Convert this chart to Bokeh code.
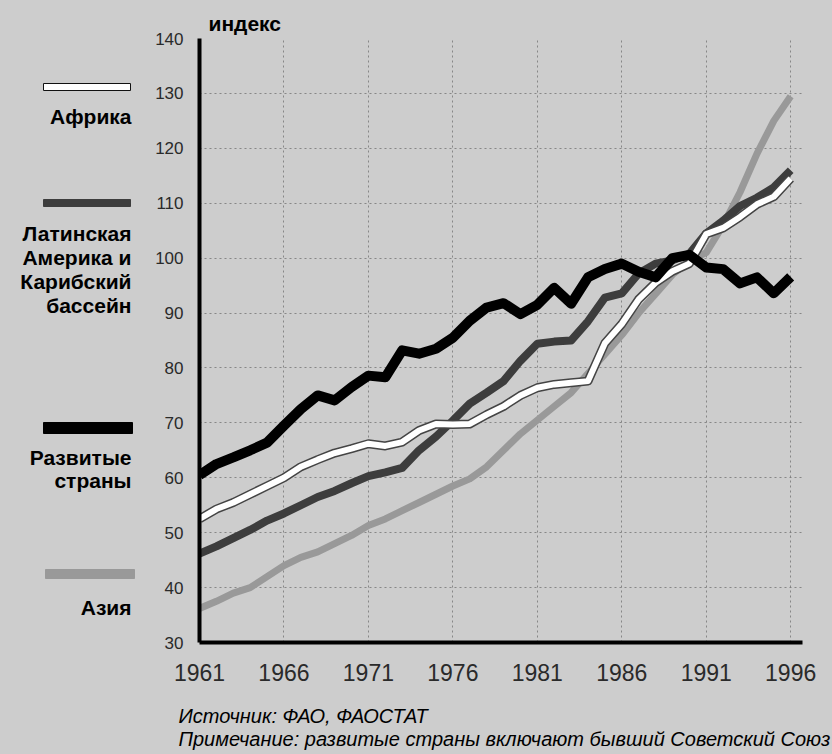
from bokeh.plotting import figure
from bokeh.layouts import row, column
from bokeh.models import Range1d, FixedTicker
from bokeh.core.properties import value
from bokeh.embed import file_html
from bokeh.resources import INLINE

# ---------------- data ----------------
years = list(range(1961, 1997))
africa = [52.5, 54.3, 55.5, 57.0, 58.5, 60.0, 62.0, 63.3, 64.5, 65.3, 66.2, 65.8,
          66.5, 68.6, 69.8, 69.7, 69.8, 71.5, 73.0, 75.0, 76.4, 77.0, 77.3, 77.6,
          84.5, 88.0, 92.5, 95.5, 97.6, 99.0, 104.4, 105.5, 107.5, 109.8, 111.2, 114.5]
latam = [46.2, 47.5, 49.0, 50.5, 52.2, 53.5, 55.0, 56.5, 57.6, 59.0, 60.3, 61.0,
         61.8, 65.0, 67.5, 70.4, 73.5, 75.5, 77.6, 81.3, 84.4, 84.8, 85.0, 88.5,
         92.8, 93.6, 97.2, 99.0, 99.6, 100.8, 104.5, 106.8, 109.5, 111.0, 112.9, 116.0]
developed = [60.5, 62.5, 63.7, 65.0, 66.4, 69.5, 72.5, 75.0, 74.1, 76.5, 78.6, 78.3,
             83.2, 82.6, 83.5, 85.5, 88.6, 91.0, 91.8, 89.8, 91.5, 94.6, 91.7, 96.5,
             98.0, 99.0, 97.5, 96.5, 100.0, 100.6, 98.3, 98.0, 95.4, 96.5, 93.6, 96.6]
asia = [36.2, 37.5, 39.0, 40.0, 42.0, 44.0, 45.5, 46.5, 48.0, 49.5, 51.3, 52.5,
        54.0, 55.5, 57.0, 58.5, 59.8, 62.0, 65.0, 68.0, 70.5, 73.0, 75.5, 79.0,
        82.5, 86.0, 90.0, 93.5, 97.0, 99.5, 101.0, 106.0, 112.0, 119.0, 125.0, 129.5]

x_ticks = [1961, 1966, 1971, 1976, 1981, 1986, 1991, 1996]
y_ticks = [30, 40, 50, 60, 70, 80, 90, 100, 110, 120, 130, 140]

y_title = "индекс"
source_note = "Источник: ФАО,  ФАОСТАТ"
remark_note = "Примечание: развитые страны включают бывший Советский Союз"

# legend: label lines per series (Африка, Латинская Америка..., Развитые страны, Азия)
legend_lines = [
    ["Африка"],
    ["Латинская", "Америка и", "Карибский", "бассейн"],
    ["Развитые", "страны"],
    ["Азия"],
]

# ---------------- styling / layout ----------------
BG = "#cdcdcd"
FONT = "Liberation Sans"
C_ASIA = "#999999"
C_LATAM = "#3d3d3d"
C_DEV = "#000000"
C_AFR = "#ffffff"

W, H = 832, 754
FOOT_H = 54
MAIN_H = H - FOOT_H
LEFT_W = 148
TOP, BOTTOM = 38, MAIN_H - 642     # borders above / below the plotting frame
FRAME_TOP, FRAME_BOTTOM = TOP, MAIN_H - BOTTOM

# ---------------- legend panel (left) ----------------
lf = figure(width=LEFT_W, height=MAIN_H,
            x_range=Range1d(0, LEFT_W), y_range=Range1d(FRAME_BOTTOM, FRAME_TOP),
            output_backend="svg", toolbar_location=None,
            x_axis_location=None, y_axis_location=None,
            min_border_left=0, min_border_right=0,
            min_border_top=TOP, min_border_bottom=BOTTOM)
lf.grid.visible = False
lf.outline_line_color = None
lf.background_fill_color = BG
lf.border_fill_color = BG

# swatch boxes (panel pixel layout)
sw_left = [43, 43, 43, 45]
sw_right = [130, 130, 132, 134]
sw_top = [83, 199, 422, 569]
sw_bottom = [90, 206, 433, 578]
sw_fill = [C_AFR, C_LATAM, C_DEV, C_ASIA]
sw_line = ["#111111", C_LATAM, C_DEV, C_ASIA]
lf.quad(left=sw_left, right=sw_right, top=sw_top, bottom=sw_bottom,
        fill_color=sw_fill, line_color=sw_line, line_width=1)

label_y = [[116], [233, 257, 281, 305], [457, 480], [607]]
tx, ty, tt = [], [], []
for lines, ys in zip(legend_lines, label_y):
    for t, yy in zip(lines, ys):
        tx.append(131)
        ty.append(yy)
        tt.append(t)
lf.text(x=tx, y=ty, text=tt, text_align="right", text_baseline="middle",
        text_font=value(FONT), text_font_style="bold", text_font_size="21px",
        text_color="#000000")

# ---------------- main chart ----------------
p = figure(width=W - LEFT_W, height=MAIN_H,
           x_range=Range1d(1961, 1996.7), y_range=Range1d(30, 140),
           output_backend="svg", toolbar_location=None,
           min_border_left=51, min_border_right=30,
           min_border_top=TOP, min_border_bottom=BOTTOM,
           title=y_title)
p.background_fill_color = BG
p.border_fill_color = BG
p.outline_line_color = None

p.title.align = "left"
p.title.offset = 9
p.title.standoff = 7
p.title.text_font = FONT
p.title.text_font_size = "21px"
p.title.text_font_style = "bold"
p.title.text_color = "#000000"

p.xaxis.ticker = FixedTicker(ticks=x_ticks)
p.yaxis.ticker = FixedTicker(ticks=y_ticks)
for ax in (p.xaxis, p.yaxis):
    ax.axis_line_width = 4
    ax.axis_line_color = "#000000"
    ax.major_tick_line_color = None
    ax.minor_tick_line_color = None
    ax.major_tick_out = 0
    ax.major_tick_in = 0
    ax.major_label_text_font = FONT
    ax.major_label_text_color = "#2a2a2a"
p.xaxis.major_label_text_font_size = "23px"
p.xaxis.major_label_standoff = 21
p.yaxis.major_label_text_font_size = "17px"
p.yaxis.major_label_standoff = 16

p.grid.grid_line_color = "#6f6f6f"
p.grid.grid_line_dash = "2 3"
p.grid.grid_line_alpha = 0.75
p.grid.grid_line_width = 1

# series (bottom to top)
p.line(years, asia, line_color=C_ASIA, line_width=7, line_join="round")
p.line(years, latam, line_color=C_LATAM, line_width=8, line_join="round")
p.line(years, africa, line_color="#444444", line_width=9, line_join="round")
p.line(years, africa, line_color=C_AFR, line_width=6, line_join="round")
p.line(years, developed, line_color=C_DEV, line_width=10, line_join="round")

# ---------------- footnote strip ----------------
foot = figure(width=W, height=FOOT_H,
              x_range=Range1d(0, W), y_range=Range1d(H, MAIN_H),
              output_backend="svg", toolbar_location=None,
              x_axis_location=None, y_axis_location=None, min_border=0)
foot.grid.visible = False
foot.outline_line_color = None
foot.background_fill_color = BG
foot.border_fill_color = BG
foot.text(x=[178, 178], y=[715, 738], text=[source_note, remark_note],
          text_align="left", text_baseline="middle",
          text_font=value(FONT), text_font_style="italic", text_font_size="20px",
          text_color="#000000")

layout = column(row(lf, p), foot)
layout.styles = {"background-color": BG}
open("out.html", "w").write(file_html(layout, INLINE))
